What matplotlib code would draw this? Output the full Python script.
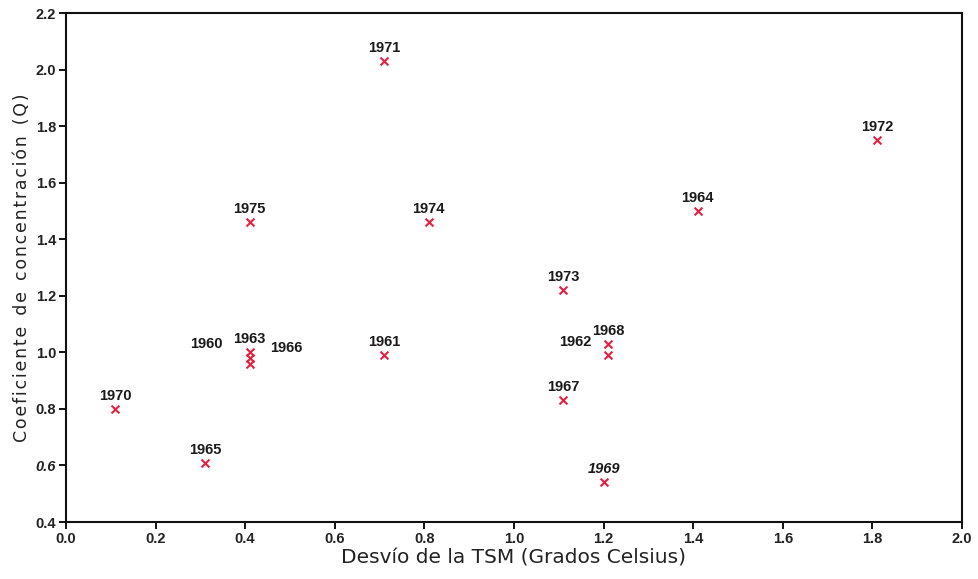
import matplotlib
matplotlib.use('Agg')
import matplotlib.pyplot as plt

# desvio de la TSM vs coeficiente de concentracion, por año
years = ['1960', '1961', '1962', '1963', '1964', '1965', '1966', '1967',
         '1968', '1969', '1970', '1971', '1972', '1973', '1974', '1975']
tsm = [0.41, 0.71, 1.21, 0.41, 1.41, 0.31, 0.41, 1.11,
       1.21, 1.20, 0.11, 0.71, 1.81, 1.11, 0.81, 0.41]
q = [0.98, 0.99, 0.99, 1.00, 1.50, 0.61, 0.96, 0.83,
     1.03, 0.54, 0.80, 2.03, 1.75, 1.22, 1.46, 1.46]

# label offsets in pixels (default: centred above the marker)
label_off = {'1960': (-43, 14), '1966': (37, 16), '1962': (-33, 13)}

fig = plt.figure(figsize=(9.79, 5.79), dpi=100)
ax = fig.add_axes([0.0674, 0.0984, 0.9152, 0.8791])

ax.scatter(tsm, q, marker='x', s=32, c='#e8203f', linewidths=1.5, zorder=3)

for yr, x, y in zip(years, tsm, q):
    dx, dy = label_off.get(yr, (0, 13))
    ax.annotate(yr, (x, y), xytext=(dx, dy), textcoords='offset pixels',
                ha='center', va='center', fontsize=10.5, fontweight='bold',
                family='Liberation Sans', color='#1a1a1a',
                style='italic' if yr == '1969' else 'normal')

ax.set_xlim(0, 2.0)
ax.set_ylim(0.4, 2.2)
ax.set_xticks([i / 10 for i in range(0, 21, 2)])
ax.set_yticks([0.4 + i * 0.2 for i in range(10)])
ax.set_xticklabels(['%.1f' % (i / 10) for i in range(0, 21, 2)])
ax.set_yticklabels(['%.1f' % (0.4 + i * 0.2) for i in range(10)])
for lab in ax.get_xticklabels() + ax.get_yticklabels():
    lab.set_family('Liberation Sans')
    lab.set_fontweight('bold')
    lab.set_fontsize(10.5)
    lab.set_color('#222222')
ax.get_yticklabels()[1].set_style('italic')

ax.tick_params(direction='out', length=5, width=1.3, pad=2)
for sp in ax.spines.values():
    sp.set_linewidth(1.5)
    sp.set_color('#111111')

ax.set_xlabel('Desvío de la TSM (Grados Celsius)', fontsize=14.5,
              family='DejaVu Sans', color='#222222', labelpad=2)
# letter spaced y label, like the original
ylab = '  '.join('\u200a'.join(w) for w in 'Coeficiente de concentración (Q)'.split())
ax.set_ylabel(ylab, fontsize=12.5, family='DejaVu Sans', color='#222222',
              labelpad=3)

fig.savefig('out.png', dpi=100)
